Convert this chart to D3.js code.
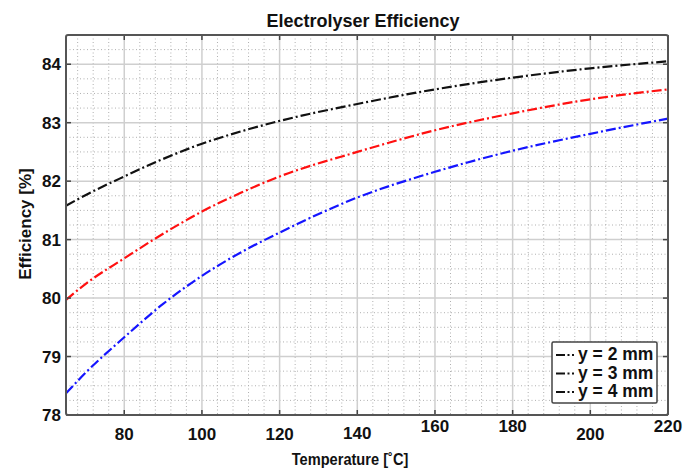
<!DOCTYPE html>
<html>
<head>
<meta charset="utf-8">
<script src="https://cdn.jsdelivr.net/npm/d3@7"></script>
<style>
  body { margin: 0; background: #fff; }
  text { font-family: "Liberation Sans", Arial, sans-serif; font-weight: bold; fill: #111; }
</style>
</head>
<body>
<svg id="chart" width="686" height="469"></svg>
<script>
// temperatures [C]
var temps = [65, 70, 80, 90, 100, 110, 120, 140, 160, 180, 200, 220];
// efficiency [%] for each channel height
var eff2mm = [81.58, 81.76, 82.08, 82.38, 82.64, 82.85, 83.03, 83.32, 83.57, 83.77, 83.93, 84.05];
var eff3mm = [79.97, 80.24, 80.68, 81.10, 81.48, 81.80, 82.08, 82.50, 82.87, 83.16, 83.40, 83.57];
var eff4mm = [78.37, 78.72, 79.33, 79.90, 80.38, 80.78, 81.12, 81.72, 82.16, 82.52, 82.81, 83.07];
var seriesNames = ["y = 2 mm", "y = 3 mm", "y = 4 mm"];
var xTicks = [80, 100, 120, 140, 160, 180, 200, 220];
var yTicks = [78, 79, 80, 81, 82, 83, 84];

var colors = ["#111111", "#ff1010", "#1515ff"];
var allSeries = [eff2mm, eff3mm, eff4mm];

var plotL = 66, plotT = 35, plotR = 668, plotB = 415;

var xScale = d3.scaleLinear().domain([65, 220]).range([plotL, plotR]);
var yScale = d3.scaleLinear().domain([78, 84.5]).range([plotB, plotT]);

const svg = d3.select('#chart');

// minor grid (dotted)
var xMinor = d3.range(68, 220, 4).filter(function (v) { return v % 20 != 0; });
var yMinor = d3.range(78.25, 84.5, 0.25).filter(function (v) { return Math.abs(v - Math.round(v)) > 0.01; });

svg.append('g').selectAll('line').data(xMinor).enter().append('line')
    .attr('x1', d => xScale(d)).attr('x2', d => xScale(d))
    .attr('y1', plotT).attr('y2', plotB)
    .attr('stroke', '#b0b0b0').attr('stroke-width', 1).attr('stroke-dasharray', '1,2.5');
svg.append('g').selectAll('line').data(yMinor).enter().append('line')
    .attr('x1', plotL).attr('x2', plotR)
    .attr('y1', d => yScale(d)).attr('y2', d => yScale(d))
    .attr('stroke', '#b0b0b0').attr('stroke-width', 1).attr('stroke-dasharray', '1,2.5');

// major grid
svg.append('g').selectAll('line').data(xTicks).enter().append('line')
    .attr('x1', d => xScale(d)).attr('x2', d => xScale(d))
    .attr('y1', plotT).attr('y2', plotB)
    .attr('stroke', '#cfcfcf').attr('stroke-width', 1.5);
svg.append('g').selectAll('line').data(yTicks).enter().append('line')
    .attr('x1', plotL).attr('x2', plotR)
    .attr('y1', d => yScale(d)).attr('y2', d => yScale(d))
    .attr('stroke', '#cfcfcf').attr('stroke-width', 1.5);

// curves
var line = d3.line()
    .x(function (d, i) { return xScale(temps[i]); })
    .y(function (d) { return yScale(d); })
    .curve(d3.curveMonotoneX);

svg.append('g').selectAll('path').data(allSeries).enter().append('path')
    .attr('d', d => line(d))
    .attr('fill', 'none')
    .attr('stroke', (d, i) => colors[i])
    .attr('stroke-width', 2.2)
    .attr('stroke-dasharray', '10,3,2,3');

// ticks inside, all four sides
var tickLen = 5;
var ticks = svg.append('g').attr('stroke', '#444').attr('stroke-width', 1.5);
xTicks.forEach(function (t) {
    ticks.append('line').attr('x1', xScale(t)).attr('x2', xScale(t)).attr('y1', plotB).attr('y2', plotB - tickLen);
    ticks.append('line').attr('x1', xScale(t)).attr('x2', xScale(t)).attr('y1', plotT).attr('y2', plotT + tickLen);
});
yTicks.forEach(function (t) {
    ticks.append('line').attr('x1', plotL).attr('x2', plotL + tickLen).attr('y1', yScale(t)).attr('y2', yScale(t));
    ticks.append('line').attr('x1', plotR).attr('x2', plotR - tickLen).attr('y1', yScale(t)).attr('y2', yScale(t));
});

// box
svg.append('rect')
    .attr('x', plotL).attr('y', plotT)
    .attr('width', plotR - plotL).attr('height', plotB - plotT)
    .attr('rx', 2)
    .attr('fill', 'none').attr('stroke', '#555').attr('stroke-width', 2);

// tick labels (x labels sit at uneven heights in the original)
var xLabelLift = { 140: 1, 160: 8, 180: 8, 220: 8 };
svg.append('g').selectAll('text').data(xTicks).enter().append('text')
    .attr('x', d => xScale(d))
    .attr('y', d => 440 - (xLabelLift[d] || 0))
    .attr('text-anchor', 'middle')
    .attr('font-size', 17)
    .text(d => d);

svg.append('g').selectAll('text').data(yTicks).enter().append('text')
    .attr('x', plotL - 5)
    .attr('y', d => yScale(d))
    .attr('dy', '0.36em')
    .attr('text-anchor', 'end')
    .attr('font-size', 17)
    .text(d => d);

// title and axis labels
svg.append('text').attr('x', 363).attr('y', 27).attr('text-anchor', 'middle')
    .attr('font-size', 18).text('Electrolyser Efficiency');
svg.append('text').attr('transform', 'translate(350,465) scale(0.86,1)').attr('text-anchor', 'middle')
    .attr('font-size', 17).text('Temperature [˚C]');
svg.append('text').attr('transform', 'translate(31,224) rotate(-90)').attr('text-anchor', 'middle')
    .attr('font-size', 17).text('Efficiency [%]');

// legend
var legend = svg.append('g');
legend.append('rect')
    .attr('x', 552).attr('y', 342).attr('width', 105).attr('height', 61)
    .attr('rx', 1.5)
    .attr('fill', '#fff').attr('stroke', '#444').attr('stroke-width', 1.5);
seriesNames.forEach(function (name, i) {
    var yy = 360 + i * 18.5;
    legend.append('line')
        .attr('x1', 556).attr('x2', 577)
        .attr('y1', yy - 5).attr('y2', yy - 5)
        .attr('stroke', '#111').attr('stroke-width', 2)
        .attr('stroke-dasharray', '9,2.5,2,2.5,2,4');
    legend.append('text').attr('x', 578).attr('y', yy)
        .attr('font-size', 17.5).text(name);
});
</script>
</body>
</html>
